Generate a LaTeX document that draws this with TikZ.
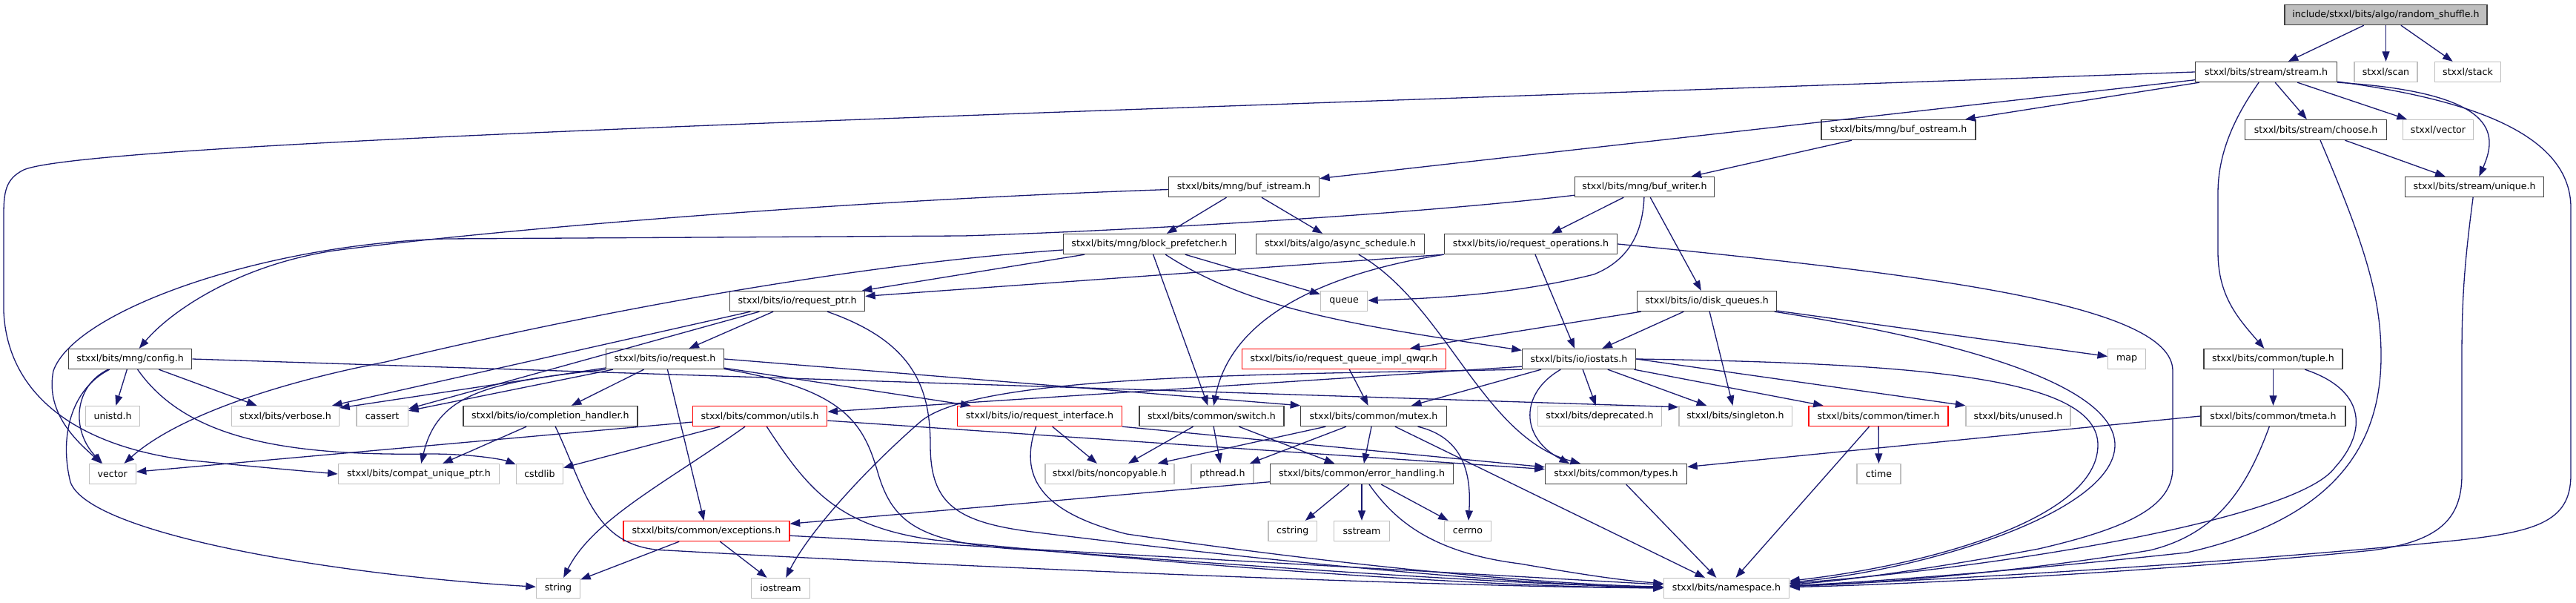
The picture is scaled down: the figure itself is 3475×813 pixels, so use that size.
\documentclass[tikz,border=0pt]{standalone}
\usepackage{fontspec}
\newfontfamily\dgfont{DejaVu Sans}
\usetikzlibrary{arrows.meta}
\definecolor{edgeblue}{HTML}{191970}
\definecolor{boxblack}{HTML}{404040}
\definecolor{boxgray}{HTML}{BFBFBF}
\definecolor{boxred}{HTML}{FF0000}
\definecolor{rootfill}{HTML}{BFBFBF}
\tikzset{
  nbox/.style={draw, fill=white, line width=1.35pt, minimum height=27pt, inner sep=1pt, font={\dgfont\fontsize{12.6pt}{15pt}\selectfont}, text=black},
  blk/.style={nbox, draw=boxblack},
  gry/.style={nbox, draw=boxgray},
  redb/.style={nbox, draw=boxred},
  rootb/.style={nbox, draw=boxblack, fill=rootfill},
  dep/.style={draw=edgeblue, line width=1.3pt, -{Triangle[length=13.5pt,width=10pt]}},
}
\begin{document}
\begin{tikzpicture}[x=1pt,y=-1pt]
\useasboundingbox (0,0) rectangle (3475,813);
% row 0
\node[rootb, minimum width=273pt] (root) at (3218.5,20) {include/stxxl/bits/algo/random\_shuffle.h};
% row 1
\node[blk, minimum width=191pt] (stream) at (3057,97) {stxxl/bits/stream/stream.h};
\node[gry, minimum width=85pt] (scan) at (3218.5,97) {stxxl/scan};
\node[gry, minimum width=89.5pt] (stack) at (3329,97) {stxxl/stack};
% row 2
\node[blk, minimum width=208pt] (bufo) at (2561,175) {stxxl/bits/mng/buf\_ostream.h};
\node[blk, minimum width=191pt] (choose) at (3124,175) {stxxl/bits/stream/choose.h};
\node[gry, minimum width=95pt] (svector) at (3289,175) {stxxl/vector};
% row 3
\node[blk, minimum width=203pt] (bufi) at (1678,252) {stxxl/bits/mng/buf\_istream.h};
\node[blk, minimum width=187.5pt] (bufw) at (2218.5,252) {stxxl/bits/mng/buf\_writer.h};
\node[blk, minimum width=187pt] (unique) at (3338,252) {stxxl/bits/stream/unique.h};
% row 4
\node[blk, minimum width=232pt] (bp) at (1550.5,329) {stxxl/bits/mng/block\_prefetcher.h};
\node[blk, minimum width=227pt] (async) at (1808,329) {stxxl/bits/algo/async\_schedule.h};
\node[blk, minimum width=233.4pt] (reqops) at (2065,329) {stxxl/bits/io/request\_operations.h};
% row 5
\node[blk, minimum width=182pt] (rptr) at (1075.5,406) {stxxl/bits/io/request\_ptr.h};
\node[gry, minimum width=63pt] (queue) at (1813,406) {queue};
\node[blk, minimum width=188pt] (dq) at (2302.6,406) {stxxl/bits/io/disk\_queues.h};
% row 6
\node[blk, minimum width=166pt] (config) at (175.7,484) {stxxl/bits/mng/config.h};
\node[blk, minimum width=159pt] (request) at (897,484) {stxxl/bits/io/request.h};
\node[redb, minimum width=275pt] (qwqr) at (1813,484) {stxxl/bits/io/request\_queue\_impl\_qwqr.h};
\node[blk, minimum width=153pt] (iostats) at (2130,484) {stxxl/bits/io/iostats.h};
\node[gry, minimum width=50.7pt] (map) at (2869,484) {map};
\node[blk, minimum width=187pt] (tuple) at (3066.5,484) {stxxl/bits/common/tuple.h};
% row 7
\node[gry, minimum width=73.6pt] (unistd) at (152,561) {unistd.h};
\node[gry, minimum width=145pt] (verbose) at (385,561) {stxxl/bits/verbose.h};
\node[gry, minimum width=69.5pt] (cassert) at (515.6,561) {cassert};
\node[blk, minimum width=235pt] (completion) at (742.4,561) {stxxl/bits/io/completion\_handler.h};
\node[redb, minimum width=181.6pt] (utils) at (1025,561) {stxxl/bits/common/utils.h};
\node[redb, minimum width=221.6pt] (ri) at (1402.5,561) {stxxl/bits/io/request\_interface.h};
\node[blk, minimum width=195pt] (switch) at (1634.5,561) {stxxl/bits/common/switch.h};
\node[blk, minimum width=196.4pt] (mutex) at (1853,561) {stxxl/bits/common/mutex.h};
\node[gry, minimum width=166.5pt] (deprecated) at (2158,561) {stxxl/bits/deprecated.h};
\node[gry, minimum width=152.4pt] (singleton) at (2341,561) {stxxl/bits/singleton.h};
\node[redb, minimum width=188pt] (timer) at (2534,561) {stxxl/bits/common/timer.h};
\node[gry, minimum width=141pt] (unused) at (2722.5,561) {stxxl/bits/unused.h};
\node[blk, minimum width=195pt] (tmeta) at (3066.5,561) {stxxl/bits/common/tmeta.h};
% row 8
\node[gry, minimum width=63pt] (vector) at (151.7,639) {vector};
\node[gry, minimum width=217.5pt] (compat) at (565,639) {stxxl/bits/compat\_unique\_ptr.h};
\node[gry, minimum width=63pt] (cstdlib) at (728,639) {cstdlib};
\node[gry, minimum width=174pt] (noncopyable) at (1497,639) {stxxl/bits/noncopyable.h};
\node[gry, minimum width=84pt] (pthread) at (1649,639) {pthread.h};
\node[blk, minimum width=247pt] (eh) at (1837,639) {stxxl/bits/common/error\_handling.h};
\node[blk, minimum width=191pt] (types) at (2180,639) {stxxl/bits/common/types.h};
\node[gry, minimum width=59pt] (ctime) at (2534.5,639) {ctime};
% row 9
\node[redb, minimum width=224pt] (exceptions) at (953,716) {stxxl/bits/common/exceptions.h};
\node[gry, minimum width=65.3pt] (cstring) at (1743.7,716) {cstring};
\node[gry, minimum width=74.7pt] (sstream) at (1837,716) {sstream};
\node[gry, minimum width=62.5pt] (cerrno) at (1980,716) {cerrno};
% row 10
\node[gry, minimum width=59pt] (string) at (753,793) {string};
\node[gry, minimum width=78.4pt] (iostream) at (1053,793) {iostream};
\node[gry, minimum width=169pt] (namespace) at (2329,793) {stxxl/bits/namespace.h};

% ---- edges ----
\draw[dep] (root) -- (stream);
\draw[dep] (root) -- (scan);
\draw[dep] (root) -- (stack);

\draw[dep] (stream) -- (bufo);
\draw[dep] (stream) -- (bufi);
\draw[dep] (stream.west) .. controls (1500,150) and (100,190) .. (30,230) .. controls (8,242) and (5,258) .. (5,290) -- (5,420) .. controls (10,530) and (100,600) .. (250,620) .. controls (350,630) and (420,636) .. (compat.west);
\draw[dep] (stream) -- (choose);
\draw[dep] (stream) -- (svector);
\draw[dep] (stream.south east) .. controls (3370,125) and (3370,180) .. (unique);
\draw[dep] (stream) .. controls (3020,150) and (2992,200) .. (2992,260) -- (2992,340) .. controls (2992,400) and (3020,430) .. (tuple);
\draw[dep] (stream) .. controls (3300,130) and (3468,170) .. (3468,280) -- (3468,640) .. controls (3468,705) and (3420,718) .. (3300,730) .. controls (3000,760) and (2600,783) .. (namespace);

\draw[dep] (choose) -- (unique);
\draw[dep] (choose) .. controls (3190,330) and (3212,400) .. (3212,480) .. controls (3212,600) and (3150,700) .. (2950,745) .. controls (2700,772) and (2500,786) .. (namespace);
\draw[dep] (unique) .. controls (3325,350) and (3321,400) .. (3321,480) -- (3321,640) .. controls (3321,700) and (3290,730) .. (3200,742) .. controls (2900,772) and (2550,789) .. (namespace);

\draw[dep] (bufo) -- (bufw);
\draw[dep] (bufi) -- (bp);
\draw[dep] (bufi) -- (async);
\draw[dep] (bufi) .. controls (1100,272) and (650,312) .. (450,338) .. controls (320,358) and (230,420) .. (config);

\draw[dep] (bufw) .. controls (1900,290) and (1500,312) .. (1300,318) -- (600,322) .. controls (350,330) and (100,420) .. (72,500) .. controls (60,560) and (110,600) .. (vector);
\draw[dep] (bufw) -- (reqops);
\draw[dep] (bufw) .. controls (2216,310) and (2200,350) .. (2150,370) .. controls (2050,395) and (1950,402) .. (queue);
\draw[dep] (bufw) -- (dq);

\draw[dep] (bp) -- (rptr);
\draw[dep] (bp) .. controls (1100,360) and (720,440) .. (520,488) .. controls (380,515) and (240,560) .. (vector);
\draw[dep] (bp) -- (switch);
\draw[dep] (bp) .. controls (1690,420) and (1840,440) .. (iostats);
\draw[dep] (bp) -- (queue);

\draw[dep] (async) .. controls (1950,410) and (2000,590) .. ([xshift=-48pt]types.north);

\draw[dep] (reqops.south west) -- (rptr);
\draw[dep] (reqops.south west) .. controls (1780,370) and (1660,430) .. (switch);
\draw[dep] (reqops) -- (iostats);
\draw[dep] (reqops.east) .. controls (2600,370) and (2931,410) .. (2931,500) -- (2931,630) .. controls (2931,680) and (2880,710) .. (2750,740) .. controls (2600,768) and (2480,784) .. (namespace);

\draw[dep] (dq) -- (iostats);
\draw[dep] (dq) -- (qwqr);
\draw[dep] (dq) -- (singleton);
\draw[dep] (dq) -- (map);
\draw[dep] (dq) .. controls (2650,460) and (2853,520) .. (2853,600) .. controls (2853,690) and (2600,768) .. (namespace);

\draw[dep] (qwqr) -- (mutex);

\draw[dep] (rptr) -- (request);
\draw[dep] (rptr) -- (verbose);
\draw[dep] (rptr) -- (cassert);
\draw[dep] (rptr) .. controls (1230,460) and (1255,520) .. (1255,600) .. controls (1255,680) and (1290,705) .. (1400,718) .. controls (1800,768) and (2100,790) .. (namespace);

\draw[dep] (request) -- (verbose);
\draw[dep] (request) -- (cassert);
\draw[dep] (request.south west) .. controls (660,515) and (590,530) .. (compat);
\draw[dep] (request) -- (completion);
\draw[dep] (request) -- (exceptions);
\draw[dep] (request) -- (ri);
\draw[dep] (request.east) -- (mutex.north west);
\draw[dep] (request) .. controls (1140,525) and (1165,570) .. (1185,640) .. controls (1205,705) and (1240,735) .. (1400,742) .. controls (1800,772) and (2100,790) .. (namespace);

\draw[dep] (completion) -- (compat);
\draw[dep] (completion) .. controls (790,660) and (800,740) .. (900,742) .. controls (1400,770) and (2000,792) .. (namespace);

\draw[dep] (utils) -- (vector);
\draw[dep] (utils) -- (cstdlib);
\draw[dep] (utils) .. controls (900,650) and (800,700) .. (string);
\draw[dep] (utils) -- (types);
\draw[dep] (utils) .. controls (1090,660) and (1130,710) .. (1260,728) .. controls (1700,772) and (2050,792) .. (namespace);

\draw[dep] (exceptions) -- (string);
\draw[dep] (exceptions) -- (iostream);
\draw[dep] (exceptions) -- (namespace);
\draw[dep] (eh) -- (exceptions);

\draw[dep] (ri) -- (noncopyable);
\draw[dep] (ri.south east) -- (types);
\draw[dep] (ri) .. controls (1375,640) and (1400,690) .. (1520,720) .. controls (1850,768) and (2100,788) .. (namespace);

\draw[dep] (switch) -- (noncopyable);
\draw[dep] (switch) -- (pthread);
\draw[dep] (switch) -- (eh);

\draw[dep] (mutex) -- (noncopyable);
\draw[dep] (mutex) -- (pthread);
\draw[dep] (mutex) -- (eh);
\draw[dep] (mutex) .. controls (1975,590) and (1985,640) .. (cerrno);
\draw[dep] (mutex) -- (namespace);

\draw[dep] (eh) -- (cstring);
\draw[dep] (eh) -- (sstream);
\draw[dep] (eh) -- (cerrno);
\draw[dep] (eh) .. controls (1880,700) and (1930,745) .. (2050,760) .. controls (2120,772) and (2180,782) .. (namespace);

\draw[dep] (types) -- (namespace);

\draw[dep] (iostats) -- (mutex);
\draw[dep] (iostats) .. controls (2050,530) and (2050,590) .. ([xshift=-63pt]types.north);
\draw[dep] (iostats) -- (deprecated);
\draw[dep] (iostats) -- (singleton);
\draw[dep] (iostats) -- (timer);
\draw[dep] (iostats.east) -- (unused.north west);
\draw[dep] (iostats.east) .. controls (2600,490) and (2830,510) .. (2830,600) .. controls (2830,700) and (2600,762) .. (namespace);
\draw[dep] ([yshift=4pt]iostats.south west) -- (utils);
\draw[dep] (iostats.south west) .. controls (1700,505) and (1310,505) .. (1240,570) .. controls (1160,640) and (1090,720) .. (iostream);

\draw[dep] (timer) -- (ctime);
\draw[dep] (timer) -- (namespace);

\draw[dep] (tuple) -- (tmeta);
\draw[dep] (tuple) .. controls (3190,525) and (3195,580) .. (3150,630) .. controls (3100,700) and (2700,765) .. (namespace);
\draw[dep] (tmeta.west) -- (types);
\draw[dep] (tmeta) .. controls (3030,660) and (2990,720) .. (2900,742) .. controls (2700,775) and (2500,788) .. (namespace);

\draw[dep] (config) .. controls (100,520) and (95,580) .. (vector);
\draw[dep] (config) -- (unistd);
\draw[dep] (config) -- (verbose);
\draw[dep] (config) .. controls (250,590) and (380,615) .. (580,612) .. controls (640,612) and (680,620) .. (cstdlib);
\draw[dep] (config) .. controls (95,525) and (80,590) .. (95,650) .. controls (120,720) and (450,775) .. (string);
\draw[dep] (config.east) -- ([yshift=-2pt]singleton.north west);
\end{tikzpicture}
\end{document}
